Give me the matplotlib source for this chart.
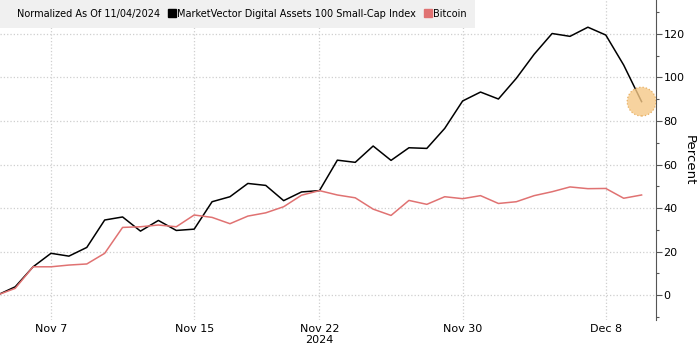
import numpy as np
import matplotlib.pyplot as plt
import matplotlib.dates as mdates
from matplotlib.lines import Line2D

# daily values, normalized to 11/04/2024 (percent)
dates = np.arange(np.datetime64('2024-11-04'), np.datetime64('2024-12-11'))
mvis = [0, 3.8, 13, 19.2, 17.9, 21.9, 34.5, 35.9, 29.4, 34.3, 29.7, 30.3,
        42.9, 45.2, 51.3, 50.4, 43.4, 47.4, 48.0, 62.0, 61.0, 68.5, 61.9,
        67.7, 67.4, 76.6, 89.2, 93.3, 90.1, 99.6, 110.7, 120.2, 118.9,
        123.1, 119.5, 105.7, 88.9]
btc = [0, 3.1, 13, 13, 13.8, 14.3, 19.2, 31.1, 31.4, 32.2, 31.4, 36.8,
       35.7, 32.8, 36.3, 37.8, 40.6, 45.9, 48.0, 46.0, 44.7, 39.5, 36.6,
       43.5, 41.7, 45.2, 44.3, 45.7, 42.1, 42.9, 45.7, 47.5, 49.7, 48.9,
       49.0, 44.5, 46.0]
tick_dates = ['2024-11-07', '2024-11-15', '2024-11-22', '2024-11-30', '2024-12-08']
tick_labels = ['Nov 7', 'Nov 15', 'Nov 22\n2024', 'Nov 30', 'Dec 8']

red = '#e07272'
grid_c = '#cfcfcf'

fig = plt.figure(figsize=(7, 3.51), dpi=100)
ax = fig.add_axes([0, 0.088, 0.937, 0.912])

x = mdates.date2num(dates.astype('datetime64[D]').astype(object))
ax.plot(x, mvis, color='black', lw=1.1, zorder=3)
ax.plot(x, btc, color=red, lw=1.1, zorder=3)

# highlight last point
ax.scatter([x[-1]], [mvis[-1]], s=430, color='#f6c987', alpha=0.8,
           edgecolors='#e3a24a', linewidths=0.9, linestyles=':', zorder=4)

ax.set_xlim(x[0] + 0.15, x[-1] + 0.8)
ax.set_ylim(-11.5, 135.6)

ax.yaxis.tick_right()
ax.yaxis.set_label_position('right')
ax.set_yticks(np.arange(0, 121, 20))
ax.set_yticks(np.arange(-10, 131, 10), minor=True)
ax.tick_params(axis='y', which='major', length=4, width=0.8, color='#555555',
               labelsize=8, pad=1.5)
ax.tick_params(axis='y', which='minor', length=2, width=0.8, color='#555555')
ax.set_ylabel('Percent', rotation=270, fontsize=9.5)
ax.yaxis.set_label_coords(1.06, 0.5)

tx = mdates.date2num([np.datetime64(d).astype(object) for d in tick_dates])
ax.set_xticks(tx)
ax.set_xticklabels(tick_labels, fontsize=8, linespacing=1.1)
ax.tick_params(axis='x', length=0, pad=3)

ax.grid(True, which='major', linestyle=':', color=grid_c, lw=0.9)
for s in ['top', 'left', 'bottom']:
    ax.spines[s].set_visible(False)
ax.spines['right'].set_color('#555555')
ax.spines['right'].set_linewidth(0.8)

handles = [Line2D([], [], linestyle='none'),
           Line2D([], [], marker='s', color='black', linestyle='none', markersize=5.5),
           Line2D([], [], marker='s', color=red, linestyle='none', markersize=5.5)]
labels = ['Normalized As Of 11/04/2024',
          'MarketVector Digital Assets 100 Small-Cap Index', 'Bitcoin']
leg = ax.legend(handles, labels, loc='upper left', bbox_to_anchor=(0, 1),
                ncol=3, frameon=True, fancybox=False, borderaxespad=0,
                handlelength=0.6, handletextpad=0.25, columnspacing=0.9,
                fontsize=7, borderpad=0.9)
leg.get_frame().set_facecolor('#f0f0f0')
leg.get_frame().set_edgecolor('none')
leg.get_frame().set_alpha(1)

fig.savefig('out.png', dpi=100)
